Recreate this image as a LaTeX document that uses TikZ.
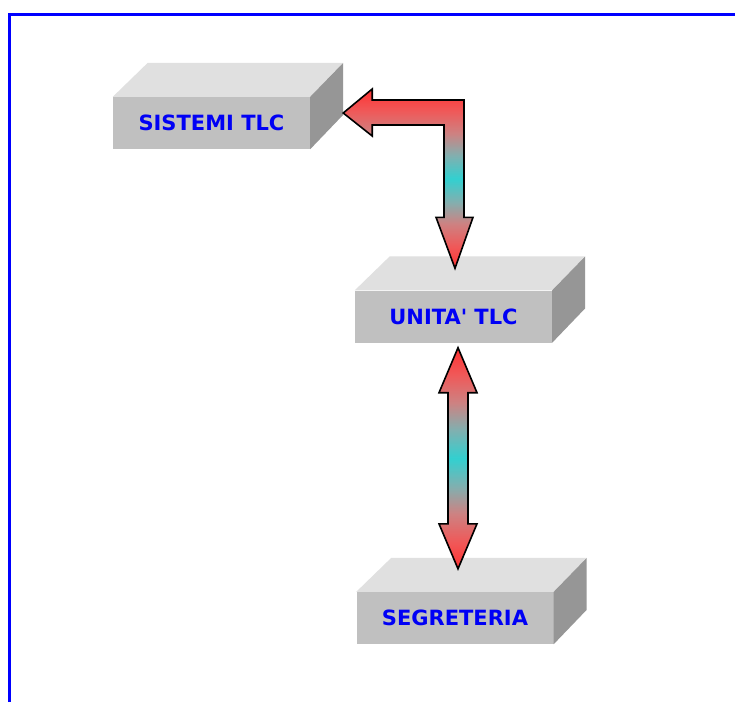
\documentclass[tikz,border=0pt]{standalone}
\usepackage{fontspec}
\newfontfamily\boxfont{DejaVu Sans}
\usetikzlibrary{calc}
\definecolor{frameBlue}{RGB}{0,0,255}
\definecolor{txtBlue}{RGB}{0,0,245}
\definecolor{frontGray}{RGB}{192,192,192}
\definecolor{topGray}{RGB}{224,224,224}
\definecolor{sideGray}{RGB}{150,150,150}
\definecolor{arRed}{RGB}{255,50,50}
\definecolor{arRedB}{RGB}{240,88,88}
\definecolor{arPink}{RGB}{205,130,130}
\definecolor{arGrayC}{RGB}{130,175,175}
\definecolor{arCyan}{RGB}{50,208,208}
\pgfdeclareverticalshading{redcyanred}{100bp}{%
  color(0bp)=(arRed); color(25bp)=(arRed); color(31bp)=(arRedB);
  color(37.5bp)=(arPink); color(43.5bp)=(arGrayC); color(50bp)=(arCyan);
  color(56.5bp)=(arGrayC); color(62.5bp)=(arPink); color(69bp)=(arRedB);
  color(75bp)=(arRed); color(100bp)=(arRed)}
\tikzset{
  front/.style={rectangle, fill=frontGray, minimum width=197pt, minimum height=52pt,
    inner sep=0pt, text=txtBlue, font=\boxfont\bfseries\fontsize{21}{24}\selectfont},
  topface/.style={fill=topGray},
  sideface/.style={fill=sideGray},
  blockarrow/.style={draw=black, line width=1.6pt, line join=miter, shading=redcyanred},
  frame/.style={draw=frameBlue, line width=3pt}
}
\newcommand{\boxdepth}[1]{%
  \fill[topface] (#1.north west) -- ++(35,-34) -- ++(195,0) -- (#1.north east) -- cycle;
  \fill[sideface] (#1.north east) -- ++(33,-34) -- ++(0,52) -- (#1.south east) -- cycle;
}
\begin{document}
\begin{tikzpicture}[x=1pt,y=-1pt]
\useasboundingbox[fill=white] (0,0) rectangle (735,702);
\draw[frame] (9,702) -- (9,14) -- (735,14);

\node[front] (sis) at (211.5,123) {SISTEMI TLC};
\node[front] (uni) at (453.5,316.5) {UNITA{\char39} TLC};
\node[front] (seg) at (455,618) {SEGRETERIA};
\boxdepth{sis}
\boxdepth{uni}
\boxdepth{seg}

\coordinate (t1) at ($(sis.east)+(33,-10)$);
\coordinate (t2) at ($(uni.north)+(1.5,-22)$);
\coordinate (u2) at ($(uni.south)+(4.5,5)$);
\coordinate (s2) at ($(seg.north)+(3,-23)$);

\path[blockarrow] (t1) -- ++(29,-24) -- ++(0,11) -| ($(t2)+(9,-51)$) -- ++(9,0) -- (t2)
  -- ++(-19,-51) -- ++(8,0) |- ($(t1)+(29,12)$) -- ++(0,11) -- cycle;

\path[blockarrow] (u2) -- ++(19,45) -- ++(-9,0) -- ($(s2)+(10,-45)$) -- ++(9,0) -- (s2)
  -- ++(-19,-45) -- ++(9,0) -- ($(u2)+(-10,45)$) -- ++(-9,0) -- cycle;
\end{tikzpicture}
\end{document}
